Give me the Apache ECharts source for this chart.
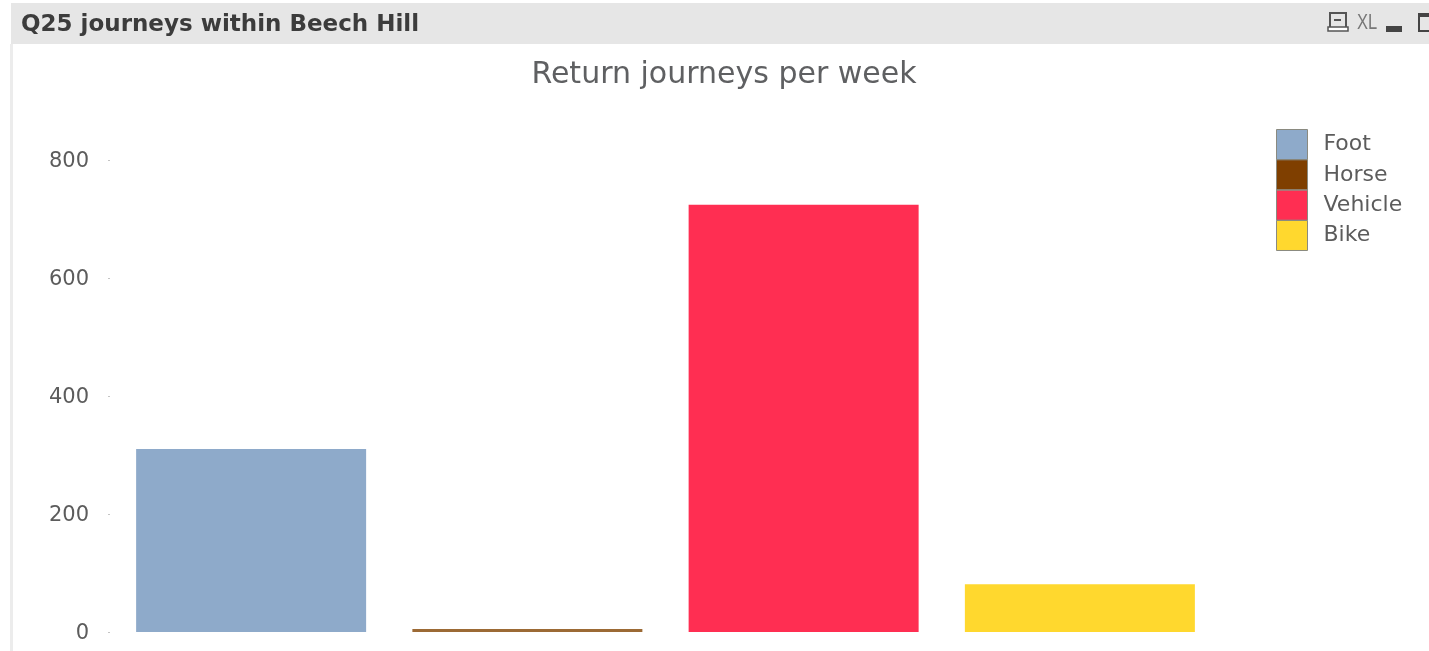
<!DOCTYPE html>
<html>
<head>
<meta charset="utf-8">
<title>Return journeys per week</title>
<style>
  html, body { margin: 0; padding: 0; background: #fff; }
  #chart { width: 1429px; height: 651px; }
</style>
<script src="https://cdn.jsdelivr.net/npm/echarts@6/dist/echarts.min.js"></script>
</head>
<body>
<div id="chart"></div>
<script>
// values
var categories = ['Foot', 'Horse', 'Vehicle', 'Bike'];
var journeys = [310, 5, 724, 81];
var legendColors = ['#8eaaca', '#7f3f00', '#ff2e52', '#ffd82e'];
// the horse bar is so thin it reads lighter than its swatch
var barColors = ['#8eaaca', '#9c6a35', '#ff2e52', '#ffd82e'];
var yTicks = [0, 200, 400, 600, 800];

var boxTitle = 'Q25 journeys within Beech Hill';
var chartTitle = 'Return journeys per week';

var myChart = echarts.init(document.getElementById('chart'));

// one stacked series per category so the legend gets its own swatch
var series = categories.map(function (name, i) {
  return {
    name: name,
    type: 'bar',
    stack: 'all',
    barWidth: 230,
    itemStyle: { color: legendColors[i] },
    data: categories.map(function (c, j) {
      return j === i ? { value: journeys[i], itemStyle: { color: barColors[i] } } : null;
    })
  };
});

var option = {
  animation: false,
  backgroundColor: '#fff',
  title: [
    {
      text: chartTitle,
      left: 719,
      top: 55,
      textAlign: 'center',
      textStyle: { fontFamily: 'DejaVu Sans', fontSize: 30, fontWeight: 'normal', color: '#5f6062' }
    },
    {
      text: boxTitle,
      left: 16,
      top: 9,
      textStyle: { fontFamily: 'DejaVu Sans', fontSize: 23, fontWeight: 'bold', color: '#3c3c3c' }
    }
  ],
  legend: {
    orient: 'vertical',
    left: 1276,
    top: 129,
    itemWidth: 31,
    itemHeight: 30,
    itemGap: -0.67,
    padding: 0,
    icon: 'rect',
    data: categories,
    selectedMode: false,
    itemStyle: { borderColor: '#8a8a80', borderWidth: 1 },
    textStyle: { fontFamily: 'DejaVu Sans', fontSize: 22, color: '#5c5c5c', padding: [2, 0, 0, 11] }
  },
  grid: { left: 113, right: 211, top: 160, bottom: 19 },
  xAxis: {
    type: 'category',
    data: categories,
    axisLine: { show: false },
    axisTick: { show: false },
    axisLabel: { show: false }
  },
  yAxis: {
    type: 'value',
    min: yTicks[0],
    max: yTicks[yTicks.length - 1],
    interval: yTicks[1] - yTicks[0],
    offset: 3,
    axisLine: { show: false },
    axisTick: { show: true, length: 2, lineStyle: { color: '#c4c4c4', width: 1 } },
    // thin line box pushes the digits a little below the tick, as in the original
    axisLabel: { margin: 21, fontFamily: 'DejaVu Sans', fontSize: 21, color: '#5c5c5c', verticalAlign: 'top', lineHeight: 4 },
    splitLine: { show: false }
  },
  series: series,
  graphic: [
    // grey caption bar and the shaded left edge of the box
    { type: 'rect', z: -1, shape: { x: 11, y: 3, width: 1418, height: 41 }, style: { fill: '#e6e6e6' } },
    { type: 'rect', z: -1, shape: { x: 10, y: 44, width: 3, height: 607 }, style: { fill: '#ececec' } },
    // caption icons: print, XL, minimise, maximise
    { type: 'rect', z: 5, shape: { x: 1330, y: 13, width: 16, height: 15 }, style: { fill: 'none', stroke: '#555', lineWidth: 2 } },
    { type: 'rect', z: 5, shape: { x: 1328, y: 27, width: 20, height: 4 }, style: { fill: '#fff', stroke: '#555', lineWidth: 1.5 } },
    { type: 'rect', z: 5, shape: { x: 1334, y: 19, width: 7, height: 2 }, style: { fill: '#555' } },
    { type: 'text', z: 5, x: 1357, y: 12, scaleX: 0.75, style: { text: 'XL', fontFamily: 'Liberation Sans', fontSize: 22, fill: '#777' } },
    { type: 'rect', z: 5, shape: { x: 1386, y: 26, width: 16, height: 6 }, style: { fill: '#444' } },
    { type: 'rect', z: 5, shape: { x: 1419, y: 14, width: 14, height: 17 }, style: { fill: 'none', stroke: '#444', lineWidth: 2 } },
    { type: 'rect', z: 5, shape: { x: 1419, y: 13, width: 14, height: 4 }, style: { fill: '#444' } }
  ]
};

myChart.setOption(option);
</script>
</body>
</html>
